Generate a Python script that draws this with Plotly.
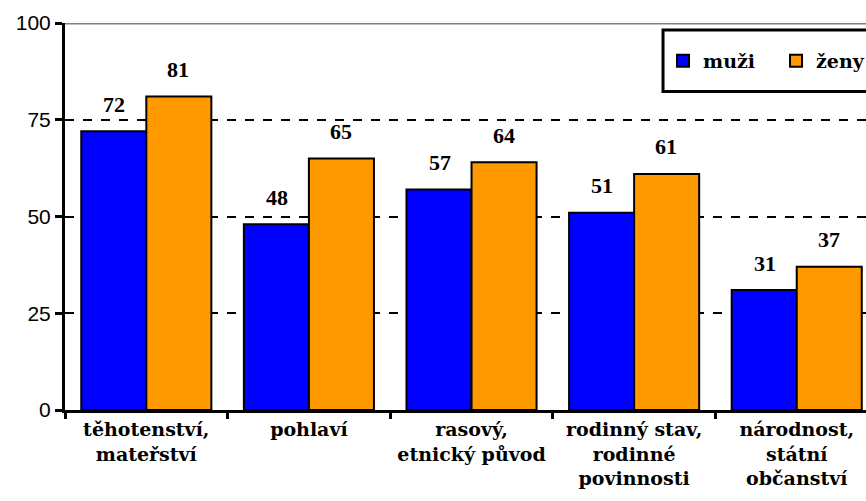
import plotly.graph_objects as go

categories = ["těhotenství,<br>mateřství", "pohlaví", "rasový,<br>etnický původ",
              "rodinný stav,<br>rodinné<br>povinnosti", "národnost,<br>státní<br>občanství"]
muzi = [72, 48, 57, 51, 31]
zeny = [81, 65, 64, 61, 37]
yticks = [0, 25, 50, 75, 100]

SERIF = "DejaVu Serif"
NUMF = "Liberation Serif, Times New Roman, DejaVu Serif, serif"
fig = go.Figure()
fig.add_trace(go.Bar(x=categories, y=muzi, name="<b>muži</b>",
                     marker=dict(color="#0000FF", line=dict(color="black", width=2))))
fig.add_trace(go.Bar(x=categories, y=zeny, name="<b>ženy</b>",
                     marker=dict(color="#FF9900", line=dict(color="black", width=2))))

for i, c in enumerate(categories):
    for v, dx in ((muzi[i], -32), (zeny[i], 32)):
        fig.add_annotation(x=i, y=v, text=f"<b>{v}</b>", showarrow=False,
                           xshift=dx, yshift=27, yanchor="middle",
                           font=dict(family=NUMF, size=22, color="black"))

fig.add_shape(type="line", xref="paper", yref="y", x0=0, x1=1, y0=100, y1=100,
              line=dict(color="#808080", width=3), layer="above")
# legend frame
fig.add_shape(type="rect", xref="paper", yref="paper", x0=0.7466, x1=1.02,
              y0=0.823, y1=0.982, line=dict(color="black", width=3),
              fillcolor="white", layer="above")

fig.update_layout(
    width=866, height=501,
    margin=dict(l=65, r=0, t=23, b=91, autoexpand=False),
    paper_bgcolor="white", plot_bgcolor="white",
    barmode="group", bargap=0.2, bargroupgap=0,
    showlegend=True,
    legend=dict(orientation="h", x=0.7466, xanchor="left", y=0.902, yanchor="middle",
                borderwidth=0, bgcolor="rgba(0,0,0,0)",
                font=dict(family=SERIF, size=19, color="black"),
                entrywidth=68, entrywidthmode="pixels", tracegroupgap=0),
    xaxis=dict(range=[-0.5, 4.426], showline=True, linecolor="black", linewidth=3,
               ticks="outside", tickson="boundaries", ticklen=6, tickwidth=3, tickcolor="black",
               tickfont=dict(family=SERIF, size=19, color="black"), tickangle=0,
               ticktext=[f"<b>{c}</b>" for c in categories], tickvals=categories,
               showgrid=False),
    yaxis=dict(range=[0, 100], tickvals=yticks, showline=True, linecolor="black", linewidth=3,
               ticks="outside", ticklen=7, tickwidth=3, tickcolor="black",
               tickfont=dict(family="Liberation Sans, Arial, sans-serif", size=21, color="black"),
               showgrid=True, gridcolor="black", griddash="dash", gridwidth=1.5,
               zeroline=False),
    font=dict(family=SERIF, color="black"),
)
fig.write_html("out.html")
